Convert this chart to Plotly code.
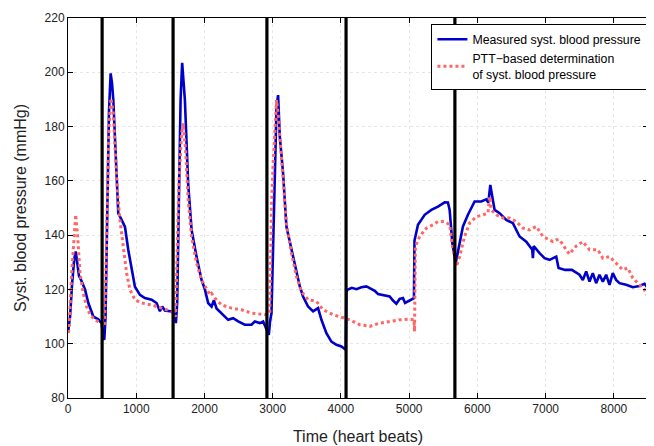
import plotly.graph_objects as go

# Measured systolic blood pressure (heart beat index, mmHg)
measured_beats = [0, 30, 60, 90, 113, 140, 161, 200, 249, 298, 371, 444, 493, 515, 532, 550, 575, 600, 625, 645,
                  664, 688, 713, 737, 786, 835, 883, 932, 981, 1054, 1127, 1225, 1298, 1347, 1381, 1420, 1518, 1555,
                  1581, 1600, 1625, 1650, 1673, 1693, 1713, 1761, 1811, 1884, 1957, 2006, 2054, 2104, 2138, 2177,
                  2250, 2347, 2420, 2494, 2591, 2689, 2738, 2811, 2860, 2909, 2943, 2960, 2982, 3006, 3031, 3056,
                  3079, 3104, 3152, 3201, 3299, 3397, 3445, 3518, 3592, 3665, 3714, 3787, 3860, 3934, 4007, 4070,
                  4080, 4095, 4160, 4227, 4300, 4373, 4422, 4495, 4543, 4617, 4714, 4760, 4812, 4860, 4909, 4940, 4982, 5070,
                  5078, 5129, 5227, 5325, 5422, 5520, 5568, 5593, 5633, 5681, 5691, 5739, 5788, 5861, 5959, 6057,
                  6130, 6160, 6189, 6218, 6252, 6325, 6423, 6520, 6618, 6716, 6804, 6813, 6825, 6911, 6984, 7057,
                  7155, 7189, 7286, 7384, 7496, 7545, 7594, 7643, 7691, 7740, 7789, 7838, 7887, 7936, 7984, 8033,
                  8082, 8180, 8277, 8375, 8448, 8500]
measured_bp = [104, 110, 122, 131, 134, 128, 125, 123, 120, 115, 110, 109, 107.5, 102, 101.5, 110, 150, 185, 199.6, 196,
               189.8, 174, 161.6, 148, 145.6, 143, 134.6, 127.2, 121, 118, 116.8, 116.2, 115, 112, 113.7, 112.2, 111.9, 111,
               107.6, 115, 150, 190, 203.5, 198, 189.8, 159, 142, 132, 123.5, 120, 115, 113.7, 116, 113,
               111.3, 108.8, 109.4, 108.2, 107, 107, 108.2, 107.6, 108.2, 105, 103.3, 108, 111.3, 135.8, 166.5, 187.3,
               191.6, 176.3, 162.8, 143.2, 132.1, 121.1, 117.4, 113.7, 111.9, 113.1, 108.8, 103.9, 100.8, 99.6, 99, 97.8,
               119, 119.9, 120.6, 120.1, 120.8, 121.1, 120.5, 119.5, 118.3, 118, 117.4, 116, 114.7, 116.5, 116.8, 115, 115.6, 116.8,
               138, 143.8, 147.5, 149.3, 150.5, 152.1, 152, 149.3, 137, 129.7, 130.9, 137, 143.2, 147.5, 152.4, 152.4,
               153.2, 152, 158.5, 154.2, 149.3, 148.1, 145.6, 144.4, 139.5, 137.6, 134.6, 131.5, 136, 133.4, 131.5, 130.9,
               132.1, 127.9, 127.2, 127.2, 125.4, 123.5, 126.6, 122.9, 126, 122.3, 125.4, 122.9, 125.4, 121.7, 126, 123.5,
               122.3, 121.7, 120.8, 121.3, 122.1, 120.5]

# PTT-based estimate of systolic blood pressure
ptt_beats = [0, 15, 54, 90, 113, 142, 176, 224, 273, 322, 395, 483, 532, 550, 566, 600, 630, 664, 688, 727, 761, 810,
             859, 908, 981, 1079, 1225, 1371, 1518, 1577, 1591, 1625, 1665, 1688, 1723, 1761, 1811, 1884, 1957, 2030,
             2080, 2104, 2152, 2250, 2396, 2543, 2689, 2884, 2933, 2957, 2982, 3006, 3041, 3056, 3079, 3114, 3152,
             3201, 3274, 3348, 3421, 3518, 3641, 3738, 3885, 4031, 4129, 4275, 4422, 4568, 4714, 4861, 5007, 5070,
             5078, 5085, 5091, 5154, 5252, 5349, 5422, 5520, 5593, 5642, 5691, 5739, 5812, 5886, 5984, 6081, 6154,
             6179, 6203, 6276, 6374, 6471, 6569, 6667, 6764, 6862, 6911, 6960, 7008, 7106, 7155, 7204, 7301, 7350,
             7399, 7450, 7545, 7643, 7765, 7838, 7936, 8033, 8131, 8204, 8277, 8375, 8448, 8500]
ptt_bp = [104, 105.1, 126, 140, 147.5, 139.5, 126, 118.6, 113.7, 110.7, 108.8, 107.6, 106.4, 120, 143.2, 180, 190.4, 184.9,
          172.6, 155.4, 145.6, 135.8, 126, 119.9, 116.2, 115, 114.3, 113.1, 111.9, 110, 122.3, 159.1, 177.5, 181.2, 171.4,
          153, 139.5, 129.7, 123.5, 119.9, 118, 118.6, 116.8, 114.3, 113.1, 112.5, 111.3, 110.7, 111.3, 111.3, 150.5,
          166.5, 182.4, 189.8, 184.9, 172.6, 160.3, 144.4, 133.4, 124.8, 119.2, 116.2, 115.6, 112.5, 110.7, 109.4, 108.8,
          107, 106.4, 107.6, 108.2, 108.8, 109.1, 108.8, 104.5, 120, 135.8, 139.5, 142.6, 143.8, 145, 145, 143.8, 134.6,
          128.4, 132.1, 139.5, 144.5, 146.8, 147.5, 148.1, 154.2, 149.3, 147.5, 146.3, 146.3, 145, 142.6, 141.9, 143.2,
          141.3, 139.5, 138.9, 137.6, 138.3, 138.3, 134.6, 133, 134.6, 136, 137.6, 134.6, 134.6, 131.5, 132.1, 129.7,
          127.2, 127.9, 124.2, 121.7, 119.9, 117.4]

# Event markers (heart beat index)
event_beats = [500, 1540, 2915, 4075, 5670]

x_ticks = [0, 1000, 2000, 3000, 4000, 5000, 6000, 7000, 8000]
y_ticks = [80, 100, 120, 140, 160, 180, 200, 220]

FONT = "Liberation Sans, Arial, sans-serif"

fig = go.Figure()
fig.add_trace(go.Scatter(x=measured_beats, y=measured_bp, mode="lines",
                         name="Measured syst. blood pressure",
                         line=dict(color="#0000CC", width=2.6)))
fig.add_trace(go.Scatter(x=ptt_beats, y=ptt_bp, mode="lines",
                         name="PTT\u2212based determination<br>of syst. blood pressure",
                         line=dict(color="#FF6666", width=3, dash="dot")))

for b in event_beats:
    fig.add_shape(type="line", x0=b, x1=b, xref="x", y0=0, y1=1, yref="paper",
                  line=dict(color="black", width=3.2), layer="above")

axis_common = dict(showline=True, linecolor="black", linewidth=1, mirror="ticks",
                   ticks="inside", ticklen=5, tickcolor="black",
                   showgrid=True, gridcolor="#e6e6e6", griddash="dot", gridwidth=1,
                   zeroline=False, automargin=False,
                   tickfont=dict(family=FONT, size=12, color="#222"))

fig.update_xaxes(range=[0, 8500], tickvals=x_ticks,
                 title=dict(text="Time (heart beats)", font=dict(family=FONT, size=16, color="#222"), standoff=15),
                 **axis_common)
fig.update_yaxes(range=[80, 220], tickvals=y_ticks,
                 title=dict(text="Syst. blood pressure (mmHg)", font=dict(family=FONT, size=16, color="#222"), standoff=13),
                 **axis_common)

fig.update_layout(
    width=646, height=438,
    margin=dict(l=60, r=6, t=10, b=48),
    plot_bgcolor="white", paper_bgcolor="white",
    showlegend=True,
    legend=dict(x=0.999, y=0.985, xanchor="right", yanchor="top",
                bgcolor="white", bordercolor="black", borderwidth=1,
                font=dict(family=FONT, size=12.3, color="black"),
                itemwidth=30, tracegroupgap=0),
    font=dict(family=FONT),
)

fig.write_html("out.html")
